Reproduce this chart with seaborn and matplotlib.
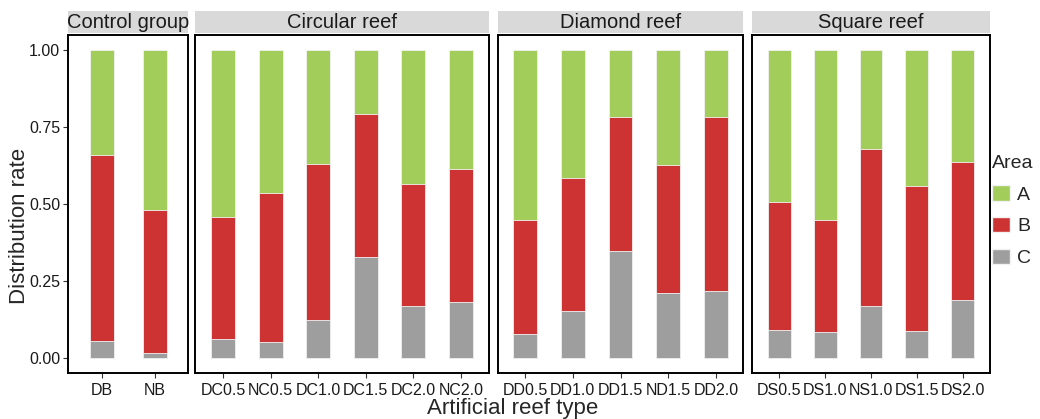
import pandas as pd
import seaborn as sns
import matplotlib.pyplot as plt
from matplotlib.patches import Patch, Rectangle

# data: share of each area (A, B, C) per reef type
groups = ['Control group', 'Circular reef', 'Diamond reef', 'Square reef']

control_types = ['DB', 'NB']
control_a = [0.340, 0.518]
control_b = [0.607, 0.466]
control_c = [0.053, 0.016]

circular_types = ['DC0.5', 'NC0.5', 'DC1.0', 'DC1.5', 'DC2.0', 'NC2.0']
circular_a = [0.543, 0.463, 0.371, 0.207, 0.436, 0.385]
circular_b = [0.395, 0.485, 0.508, 0.466, 0.397, 0.435]
circular_c = [0.062, 0.052, 0.121, 0.327, 0.167, 0.180]

diamond_types = ['DD0.5', 'DD1.0', 'DD1.5', 'ND1.5', 'DD2.0']
diamond_a = [0.551, 0.414, 0.218, 0.374, 0.218]
diamond_b = [0.372, 0.434, 0.436, 0.415, 0.564]
diamond_c = [0.077, 0.152, 0.346, 0.211, 0.218]

square_types = ['DS0.5', 'DS1.0', 'NS1.0', 'DS1.5', 'DS2.0']
square_a = [0.492, 0.551, 0.321, 0.442, 0.362]
square_b = [0.417, 0.364, 0.511, 0.471, 0.452]
square_c = [0.091, 0.085, 0.168, 0.087, 0.186]

areas = ['A', 'B', 'C']
area_colors = {'A': '#A2CD5A', 'B': '#CD3333', 'C': '#9E9E9E'}

# build one long table
rows = []
for g, types, a, b, c in [
    (groups[0], control_types, control_a, control_b, control_c),
    (groups[1], circular_types, circular_a, circular_b, circular_c),
    (groups[2], diamond_types, diamond_a, diamond_b, diamond_c),
    (groups[3], square_types, square_a, square_b, square_c),
]:
    for t, va, vb, vc in zip(types, a, b, c):
        rows.append({'group': g, 'type': t, 'A': va, 'B': vb, 'C': vc})
df = pd.DataFrame(rows)
# cumulative tops for stacking (C at bottom, then B, then A)
df['top_C'] = df['C']
df['top_B'] = df['C'] + df['B']
df['top_A'] = df['C'] + df['B'] + df['A']

group_types = {groups[0]: control_types, groups[1]: circular_types,
               groups[2]: diamond_types, groups[3]: square_types}

sns.set_style('white')
plt.rcParams['font.family'] = ['Liberation Sans', 'DejaVu Sans']

W, H = 1040, 419
fig = plt.figure(figsize=(W / 100, H / 100), dpi=100)

# panel extents in pixels (left, right), shared top/bottom
panel_px = [(68, 188), (195, 489), (498, 743), (752, 990)]
top_px, bottom_px = 35, 373
xlims = [(-0.64, 1.62), (-0.59, 5.59), (-0.57, 4.57), (-0.59, 4.59)]
bar_w = [0.45, 0.5, 0.5, 0.5]

for i, g in enumerate(groups):
    l, r = panel_px[i]
    ax = fig.add_axes([l / W, (H - bottom_px) / H, (r - l) / W, (bottom_px - top_px) / H])
    sub = df[df['group'] == g]
    order = group_types[g]
    for col, area in [('top_A', 'A'), ('top_B', 'B'), ('top_C', 'C')]:
        sns.barplot(data=sub, x='type', y=col, order=order, color=area_colors[area],
                    saturation=1, width=bar_w[i], errorbar=None, ax=ax,
                    edgecolor='#F2F2F2', linewidth=0.6)
    ax.set_xlim(*xlims[i])
    ax.set_ylim(-0.05, 1.05)
    ax.set_xlabel('')
    ax.set_ylabel('')
    for s in ax.spines.values():
        s.set_visible(True)
        s.set_color('black')
        s.set_linewidth(1.4)
    ax.tick_params(axis='x', bottom=True, length=3.5, width=0.8, color='#333333',
                   labelsize=11.5, labelcolor='#1a1a1a', pad=3.5)
    if i == 0:
        ax.set_yticks([0, 0.25, 0.5, 0.75, 1.0])
        ax.set_yticklabels(['0.00', '0.25', '0.50', '0.75', '1.00'])
        ax.tick_params(axis='y', left=True, length=3.5, width=0.8, color='#333333',
                       labelsize=11.5, labelcolor='#1a1a1a', pad=2)
    else:
        ax.set_yticks([])
    # facet strip
    sh = (top_px - 11) / (bottom_px - top_px)
    gap = 2 / (bottom_px - top_px)
    ax.add_patch(Rectangle((0, 1 + gap), 1, sh - gap, transform=ax.transAxes,
                           clip_on=False, facecolor='#D9D9D9', edgecolor='none'))
    ax.text(0.5, 1 + gap + (sh - gap) / 2, g, transform=ax.transAxes,
            ha='center', va='center', fontsize=14.5, color='#1a1a1a')

fig.text(513 / W, 1 - 414 / H, 'Artificial reef type', ha='center', va='baseline', fontsize=16)
fig.text(20 / W, 1 - 226 / H, 'Distribution rate', ha='center', va='center',
         rotation=90, fontsize=16)

handles = [Patch(facecolor=area_colors[a], edgecolor='#F2F2F2', label=a) for a in areas]
leg = fig.legend(handles=handles, title='Area', loc='upper left',
                 bbox_to_anchor=(992 / W, 1 - 155 / H), frameon=False,
                 fontsize=14, title_fontsize=14, handlelength=0.9, handleheight=0.85,
                 handletextpad=0.4, labelspacing=0.68, borderpad=0, borderaxespad=0,
                 alignment='left')

fig.savefig('out.png', dpi=100)
